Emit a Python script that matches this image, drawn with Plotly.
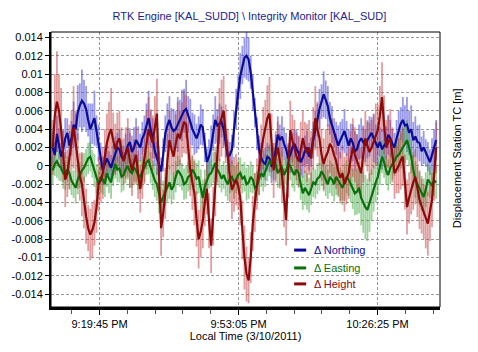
import pandas as pd
import plotly.graph_objects as go

# ---------------- data ----------------
start_time = "2011-03-10 21:08:30"
n_points = 185
step = "30s"

northing = [
    0.0020, 0.0012, 0.0035, 0.0024, 0.0010, 0.0018, 0.0030, 0.0036, 0.0022, 0.0030,
    0.0045, 0.0040, 0.0058, 0.0066, 0.0071, 0.0068, 0.0062, 0.0050, 0.0040, 0.0046,
    0.0052, 0.0038, 0.0025, 0.0010, -0.0005, 0.0002, 0.0008, 0.0003, -0.0002, 0.0006,
    0.0012, 0.0020, 0.0018, 0.0010, 0.0006, 0.0014, 0.0022, 0.0026, 0.0015, 0.0020,
    0.0028, 0.0024, 0.0020, 0.0030, 0.0035, 0.0044, 0.0052, 0.0040, 0.0030, 0.0016,
    0.0008, 0.0002, -0.0006, 0.0012, 0.0035, 0.0044, 0.0050, 0.0042, 0.0038, 0.0040,
    0.0045, 0.0050, 0.0055, 0.0060, 0.0062, 0.0056, 0.0048, 0.0040, 0.0034, 0.0030,
    0.0036, 0.0045, 0.0042, 0.0020, 0.0004, 0.0010, 0.0020, 0.0036, 0.0050, 0.0044,
    0.0046, 0.0048, 0.0040, 0.0024, 0.0010, 0.0012, 0.0018, 0.0040, 0.0062, 0.0080,
    0.0098, 0.0110, 0.0118, 0.0120, 0.0116, 0.0102, 0.0080, 0.0058, 0.0035, 0.0018,
    0.0009, 0.0004, 0.0002, 0.0010, 0.0008, 0.0000, 0.0002, 0.0018, 0.0034, 0.0028,
    0.0032, 0.0024, 0.0018, 0.0008, 0.0012, 0.0020, 0.0024, 0.0018, 0.0014, 0.0004,
    0.0009, 0.0016, 0.0020, 0.0010, 0.0015, 0.0028, 0.0040, 0.0050, 0.0062, 0.0070,
    0.0078, 0.0072, 0.0065, 0.0052, 0.0045, 0.0036, 0.0030, 0.0022, 0.0028, 0.0034,
    0.0038, 0.0030, 0.0022, 0.0030, 0.0025, 0.0016, 0.0018, 0.0026, 0.0030, 0.0026,
    0.0022, 0.0028, 0.0032, 0.0036, 0.0030, 0.0024, 0.0020, 0.0026, 0.0018, 0.0022,
    0.0025, 0.0034, 0.0030, 0.0024, 0.0020, 0.0030, 0.0038, 0.0046, 0.0050, 0.0044,
    0.0045, 0.0036, 0.0040, 0.0028, 0.0032, 0.0026, 0.0025, 0.0016, 0.0020, 0.0014,
    0.0010, 0.0004, 0.0012, 0.0020, 0.0028,
]
northing_err = [
    0.0018, 0.0014, 0.0020, 0.0017, 0.0015, 0.0021, 0.0022, 0.0016, 0.0016, 0.0019,
    0.0025, 0.0020, 0.0030, 0.0024, 0.0034, 0.0026, 0.0025, 0.0018, 0.0028, 0.0022,
    0.0030, 0.0017, 0.0020, 0.0015, 0.0015, 0.0019, 0.0018, 0.0013, 0.0014, 0.0017,
    0.0020, 0.0016, 0.0022, 0.0018, 0.0016, 0.0021, 0.0020, 0.0015, 0.0018, 0.0022,
    0.0024, 0.0019, 0.0015, 0.0018, 0.0020, 0.0024, 0.0030, 0.0020, 0.0022, 0.0016,
    0.0018, 0.0014, 0.0015, 0.0018, 0.0020, 0.0024, 0.0026, 0.0021, 0.0024, 0.0020,
    0.0030, 0.0022, 0.0028, 0.0024, 0.0032, 0.0020, 0.0025, 0.0018, 0.0022, 0.0016,
    0.0018, 0.0022, 0.0020, 0.0016, 0.0015, 0.0019, 0.0024, 0.0020, 0.0026, 0.0018,
    0.0022, 0.0017, 0.0020, 0.0015, 0.0018, 0.0014, 0.0016, 0.0020, 0.0022, 0.0019,
    0.0025, 0.0021, 0.0022, 0.0026, 0.0024, 0.0018, 0.0020, 0.0016, 0.0018, 0.0015,
    0.0016, 0.0013, 0.0018, 0.0015, 0.0015, 0.0019, 0.0018, 0.0016, 0.0020, 0.0017,
    0.0022, 0.0018, 0.0018, 0.0015, 0.0020, 0.0016, 0.0016, 0.0021, 0.0018, 0.0014,
    0.0022, 0.0017, 0.0018, 0.0015, 0.0016, 0.0020, 0.0020, 0.0018, 0.0022, 0.0019,
    0.0025, 0.0021, 0.0022, 0.0018, 0.0020, 0.0016, 0.0018, 0.0022, 0.0020, 0.0017,
    0.0024, 0.0019, 0.0018, 0.0016, 0.0020, 0.0022, 0.0016, 0.0019, 0.0022, 0.0018,
    0.0018, 0.0020, 0.0022, 0.0017, 0.0026, 0.0021, 0.0020, 0.0016, 0.0022, 0.0019,
    0.0018, 0.0022, 0.0020, 0.0016, 0.0016, 0.0020, 0.0022, 0.0018, 0.0025, 0.0022,
    0.0030, 0.0024, 0.0026, 0.0020, 0.0022, 0.0018, 0.0020, 0.0016, 0.0018, 0.0015,
    0.0016, 0.0014, 0.0018, 0.0020, 0.0022,
]
easting = [
    -0.0005, 0.0002, 0.0005, 0.0000, -0.0002, -0.0008, -0.0010, -0.0004, -0.0008, -0.0016,
    -0.0020, -0.0024, -0.0015, -0.0010, -0.0005, -0.0002, 0.0003, 0.0008, 0.0010, 0.0002,
    -0.0005, -0.0014, -0.0020, -0.0012, -0.0015, -0.0020, -0.0008, -0.0014, -0.0018, -0.0006,
    0.0002, -0.0004, -0.0003, -0.0012, -0.0010, -0.0004, 0.0000, -0.0006, -0.0008, -0.0002,
    -0.0005, -0.0010, -0.0012, -0.0006, -0.0002, 0.0004, 0.0006, -0.0002, -0.0010, -0.0016,
    -0.0020, -0.0032, -0.0040, -0.0034, -0.0028, -0.0022, -0.0018, -0.0026, -0.0022, -0.0012,
    -0.0005, -0.0008, -0.0012, -0.0020, -0.0018, -0.0012, -0.0010, -0.0004, -0.0008, -0.0014,
    -0.0012, -0.0024, -0.0035, -0.0022, -0.0015, -0.0010, -0.0008, -0.0002, 0.0003, -0.0004,
    -0.0008, -0.0014, -0.0010, -0.0016, -0.0020, -0.0014, -0.0012, -0.0018, -0.0015, -0.0010,
    -0.0008, -0.0014, -0.0012, -0.0020, -0.0018, -0.0012, -0.0015, -0.0024, -0.0022, -0.0014,
    -0.0008, -0.0012, -0.0005, 0.0000, 0.0005, 0.0002, 0.0010, 0.0002, -0.0008, -0.0004,
    -0.0002, -0.0010, -0.0005, 0.0002, 0.0000, -0.0006, -0.0010, -0.0004, -0.0008, -0.0020,
    -0.0030, -0.0024, -0.0028, -0.0032, -0.0025, -0.0018, -0.0020, -0.0014, -0.0012, -0.0006,
    -0.0010, -0.0016, -0.0020, -0.0012, -0.0015, -0.0020, -0.0012, -0.0016, -0.0020, -0.0024,
    -0.0018, -0.0012, -0.0015, -0.0020, -0.0025, -0.0030, -0.0028, -0.0024, -0.0035, -0.0040,
    -0.0045, -0.0048, -0.0040, -0.0032, -0.0025, -0.0018, -0.0012, -0.0002, 0.0010, 0.0004,
    -0.0005, -0.0010, -0.0002, 0.0002, 0.0005, 0.0010, 0.0012, 0.0016, 0.0020, 0.0024,
    0.0028, 0.0020, 0.0010, -0.0004, -0.0015, -0.0020, -0.0025, -0.0030, -0.0034, -0.0026,
    -0.0015, -0.0018, -0.0022, -0.0016, -0.0018,
]
easting_err = [
    0.0015, 0.0013, 0.0018, 0.0016, 0.0015, 0.0017, 0.0016, 0.0014, 0.0018, 0.0016,
    0.0015, 0.0017, 0.0016, 0.0014, 0.0018, 0.0016, 0.0015, 0.0017, 0.0016, 0.0015,
    0.0018, 0.0016, 0.0015, 0.0017, 0.0016, 0.0014, 0.0015, 0.0016, 0.0018, 0.0016,
    0.0016, 0.0014, 0.0015, 0.0017, 0.0017, 0.0015, 0.0015, 0.0018, 0.0016, 0.0015,
    0.0015, 0.0016, 0.0018, 0.0017, 0.0016, 0.0014, 0.0015, 0.0017, 0.0016, 0.0018,
    0.0018, 0.0020, 0.0020, 0.0018, 0.0016, 0.0017, 0.0018, 0.0016, 0.0015, 0.0017,
    0.0016, 0.0015, 0.0015, 0.0017, 0.0018, 0.0016, 0.0016, 0.0014, 0.0015, 0.0017,
    0.0018, 0.0020, 0.0020, 0.0018, 0.0016, 0.0015, 0.0015, 0.0017, 0.0018, 0.0016,
    0.0016, 0.0015, 0.0015, 0.0017, 0.0018, 0.0016, 0.0016, 0.0018, 0.0015, 0.0017,
    0.0017, 0.0016, 0.0016, 0.0018, 0.0018, 0.0017, 0.0015, 0.0016, 0.0016, 0.0018,
    0.0015, 0.0016, 0.0018, 0.0017, 0.0016, 0.0015, 0.0015, 0.0017, 0.0016, 0.0018,
    0.0018, 0.0016, 0.0015, 0.0017, 0.0016, 0.0018, 0.0018, 0.0016, 0.0016, 0.0017,
    0.0018, 0.0019, 0.0020, 0.0019, 0.0018, 0.0016, 0.0016, 0.0017, 0.0015, 0.0016,
    0.0018, 0.0017, 0.0016, 0.0018, 0.0018, 0.0019, 0.0020, 0.0018, 0.0018, 0.0019,
    0.0020, 0.0018, 0.0018, 0.0020, 0.0022, 0.0024, 0.0025, 0.0028, 0.0030, 0.0033,
    0.0035, 0.0034, 0.0032, 0.0028, 0.0025, 0.0022, 0.0020, 0.0019, 0.0018, 0.0017,
    0.0016, 0.0017, 0.0018, 0.0017, 0.0016, 0.0018, 0.0018, 0.0019, 0.0020, 0.0021,
    0.0022, 0.0020, 0.0018, 0.0019, 0.0020, 0.0019, 0.0018, 0.0019, 0.0020, 0.0019,
    0.0018, 0.0017, 0.0016, 0.0017, 0.0018,
]
height = [
    0.0020, 0.0055, 0.0070, 0.0060, 0.0040, 0.0010, -0.0015, -0.0008, 0.0010, 0.0030,
    0.0042, 0.0025, 0.0005, -0.0012, -0.0020, -0.0040, -0.0055, -0.0068, -0.0075, -0.0070,
    -0.0062, -0.0045, -0.0020, -0.0016, -0.0008, 0.0010, 0.0025, 0.0034, 0.0040, 0.0028,
    0.0018, 0.0026, 0.0030, 0.0016, 0.0005, 0.0014, 0.0020, 0.0006, -0.0005, 0.0004,
    0.0012, -0.0010, -0.0025, -0.0008, 0.0010, 0.0028, 0.0040, 0.0032, 0.0025, 0.0042,
    0.0057, -0.0010, -0.0068, -0.0052, -0.0030, 0.0005, 0.0028, 0.0018, 0.0010, 0.0024,
    0.0035, 0.0030, 0.0039, 0.0048, 0.0045, 0.0020, -0.0005, -0.0018, -0.0030, -0.0058,
    -0.0080, -0.0072, -0.0060, -0.0040, -0.0025, -0.0060, -0.0087, -0.0055, -0.0020, 0.0018,
    0.0045, 0.0052, 0.0060, 0.0035, 0.0010, -0.0012, -0.0026, -0.0020, -0.0015, -0.0022,
    -0.0035, -0.0070, -0.0100, -0.0118, -0.0125, -0.0100, -0.0063, -0.0040, -0.0020, -0.0002,
    0.0015, 0.0030, 0.0040, 0.0052, 0.0057, 0.0025, -0.0005, 0.0010, 0.0020, 0.0005,
    -0.0010, -0.0035, -0.0059, -0.0005, 0.0039, 0.0028, 0.0020, 0.0010, 0.0005, 0.0018,
    0.0030, 0.0020, 0.0014, 0.0020, 0.0008, 0.0030, 0.0052, 0.0040, 0.0030, 0.0012,
    0.0002, 0.0010, 0.0015, 0.0024, 0.0020, 0.0012, 0.0005, -0.0006, -0.0013, -0.0008,
    -0.0020, -0.0014, -0.0008, 0.0008, 0.0020, 0.0012, 0.0005, -0.0002, -0.0008, 0.0012,
    0.0030, 0.0022, 0.0015, 0.0020, 0.0027, 0.0034, 0.0039, 0.0055, 0.0075, 0.0045,
    0.0020, 0.0026, 0.0030, 0.0012, -0.0008, -0.0004, 0.0000, 0.0006, 0.0010, -0.0018,
    -0.0045, -0.0035, -0.0025, -0.0018, -0.0012, -0.0024, -0.0037, -0.0044, -0.0050, -0.0058,
    -0.0063, -0.0050, -0.0037, -0.0010, 0.0020,
]
height_err = [
    0.0030, 0.0045, 0.0055, 0.0040, 0.0045, 0.0028, 0.0030, 0.0026, 0.0035, 0.0030,
    0.0045, 0.0032, 0.0030, 0.0026, 0.0035, 0.0028, 0.0030, 0.0025, 0.0028, 0.0030,
    0.0025, 0.0028, 0.0030, 0.0024, 0.0028, 0.0030, 0.0032, 0.0036, 0.0045, 0.0030,
    0.0028, 0.0032, 0.0030, 0.0026, 0.0025, 0.0028, 0.0032, 0.0030, 0.0028, 0.0025,
    0.0030, 0.0026, 0.0026, 0.0028, 0.0030, 0.0032, 0.0035, 0.0030, 0.0030, 0.0034,
    0.0038, 0.0032, 0.0030, 0.0026, 0.0028, 0.0030, 0.0032, 0.0028, 0.0030, 0.0032,
    0.0035, 0.0030, 0.0030, 0.0034, 0.0032, 0.0028, 0.0028, 0.0030, 0.0035, 0.0030,
    0.0032, 0.0028, 0.0030, 0.0026, 0.0028, 0.0030, 0.0030, 0.0032, 0.0035, 0.0036,
    0.0040, 0.0042, 0.0038, 0.0032, 0.0030, 0.0028, 0.0032, 0.0030, 0.0028, 0.0026,
    0.0030, 0.0032, 0.0035, 0.0030, 0.0025, 0.0028, 0.0030, 0.0032, 0.0028, 0.0030,
    0.0030, 0.0034, 0.0032, 0.0036, 0.0040, 0.0032, 0.0030, 0.0028, 0.0028, 0.0030,
    0.0030, 0.0032, 0.0028, 0.0030, 0.0032, 0.0028, 0.0030, 0.0026, 0.0028, 0.0030,
    0.0030, 0.0028, 0.0032, 0.0030, 0.0030, 0.0034, 0.0035, 0.0030, 0.0030, 0.0028,
    0.0028, 0.0030, 0.0030, 0.0032, 0.0032, 0.0028, 0.0030, 0.0026, 0.0028, 0.0030,
    0.0030, 0.0028, 0.0028, 0.0030, 0.0032, 0.0030, 0.0030, 0.0028, 0.0028, 0.0030,
    0.0030, 0.0028, 0.0032, 0.0030, 0.0030, 0.0034, 0.0028, 0.0032, 0.0038, 0.0032,
    0.0030, 0.0028, 0.0032, 0.0030, 0.0028, 0.0026, 0.0030, 0.0032, 0.0032, 0.0030,
    0.0030, 0.0028, 0.0028, 0.0030, 0.0030, 0.0032, 0.0032, 0.0030, 0.0030, 0.0032,
    0.0035, 0.0032, 0.0030, 0.0028, 0.0028,
]

series_names = ["\u0394 Northing", "\u0394 Easting", "\u0394 Height"]
y_tickvals = [0.014, 0.012, 0.01, 0.008, 0.006, 0.004, 0.002, 0, -0.002, -0.004,
              -0.006, -0.008, -0.01, -0.012, -0.014]
y_ticktext = ["0.014", "0.012", "0.01", "0.008", "0.006", "0.004", "0.002", "0",
              "-0.002", "-0.004", "-0.006", "-0.008", "-0.01", "-0.012", "-0.014"]
x_tickvals = ["2011-03-10 21:19:45", "2011-03-10 21:53:05", "2011-03-10 22:26:25"]
x_ticktext = ["9:19:45 PM", "9:53:05 PM", "10:26:25 PM"]

# ---------------- figure ----------------
times = list(pd.date_range(start_time, periods=n_points, freq=step))

line_colors = ["#0c0c98", "#0a700a", "#8c0a0a"]
band_colors = ["rgba(70,70,215,0.55)", "rgba(60,165,60,0.50)", "rgba(195,60,60,0.50)"]
values = [northing, easting, height]
errors = [northing_err, easting_err, height_err]

fig = go.Figure()

# light uncertainty bars behind the lines
for vals, errs, bc in zip(values, errors, band_colors):
    bx, by = [], []
    for t, v, e in zip(times, vals, errs):
        bx += [t, t, None]
        by += [v - e, v + e, None]
    fig.add_trace(go.Scatter(x=bx, y=by, mode="lines",
                             line=dict(color=bc, width=1.8),
                             hoverinfo="skip", showlegend=False))

for vals, lc, name in zip(values, line_colors, series_names):
    fig.add_trace(go.Scatter(x=times, y=vals, mode="lines", name=name,
                             line=dict(color=lc, width=2.2), showlegend=False))

font_family = "Arial, Liberation Sans, sans-serif"

# manual legend
legend_y = [0.207, 0.142, 0.084]
for lc, name, ly in zip(line_colors, series_names, legend_y):
    fig.add_shape(type="line", xref="paper", yref="paper",
                  x0=0.625, x1=0.656, y0=ly, y1=ly,
                  line=dict(color=lc, width=3))
    fig.add_annotation(x=0.671, y=ly, xref="paper", yref="paper",
                       text=name, showarrow=False, xanchor="left", yanchor="middle",
                       font=dict(family=font_family, size=11, color=lc))

# right-side title
fig.add_annotation(x=1.043, y=0.54, xref="paper", yref="paper",
                   text="Displacement Station TC [m]", showarrow=False,
                   textangle=-90, xanchor="center", yanchor="middle",
                   font=dict(family=font_family, size=11, color="black"))

# thin top/right frame
fig.add_shape(type="rect", xref="paper", yref="paper", x0=0, x1=1, y0=0, y1=1,
              line=dict(color="black", width=1), layer="above")

fig.update_layout(
    width=478, height=352, autosize=False,
    margin=dict(l=48, r=38, t=32, b=45, pad=0),
    paper_bgcolor="white", plot_bgcolor="white",
    font=dict(family=font_family, size=11, color="black"),
    title=dict(text="RTK Engine [KAL_SUDD] \\ Integrity Monitor [KAL_SUD]",
               x=0.51, xref="paper", xanchor="center",
               y=1 - 16 / 352, yref="container", yanchor="middle",
               font=dict(family=font_family, size=11, color="#1c1c8c")),
    showlegend=False,
)

fig.update_xaxes(
    type="date",
    range=["2011-03-10 21:08:05", "2011-03-10 22:41:25"],
    tickmode="array", tickvals=x_tickvals, ticktext=x_ticktext,
    ticks="outside", ticklen=5, tickcolor="black", tickwidth=1,
    showgrid=True, gridcolor="#9a9a9a", gridwidth=1, griddash="3px,2px",
    showline=True, linecolor="black", linewidth=3,
    zeroline=False,
    minor=dict(ticks="outside", ticklen=4, tickcolor="#555555",
               dtick=400000, tick0="2011-03-10 21:19:45", showgrid=False),
    title=dict(text="Local Time (3/10/2011)", standoff=2,
               font=dict(family=font_family, size=11, color="black")),
    tickfont=dict(family=font_family, size=11, color="black"),
)

fig.update_yaxes(
    range=[-0.0154, 0.0146],
    tickmode="array", tickvals=y_tickvals, ticktext=y_ticktext,
    ticks="outside", ticklen=4, tickcolor="black",
    showgrid=True, gridcolor="#9a9a9a", gridwidth=1, griddash="3px,2px",
    showline=True, linecolor="black", linewidth=2,
    zeroline=False,
    tickfont=dict(family=font_family, size=11, color="black"),
)

fig.write_html("out.html")
